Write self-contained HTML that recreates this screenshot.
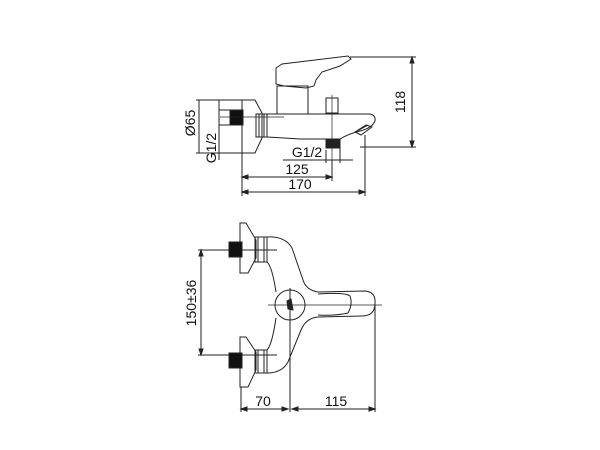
<!DOCTYPE html>
<html><head><meta charset="utf-8"><style>
html,body{margin:0;padding:0;background:#fff;width:600px;height:450px;overflow:hidden}
text{font-family:"Liberation Sans",sans-serif;font-size:14px;fill:#111}
</style></head><body>
<svg width="600" height="450" viewBox="0 0 600 450" xmlns="http://www.w3.org/2000/svg">
<g fill="none" stroke="#222" stroke-width="1">
<line x1="350" y1="57" x2="416" y2="57"/>
<line x1="360" y1="147" x2="416" y2="147"/>
<line x1="412" y1="57" x2="412" y2="147"/>
<path d="M412 57 l-2 6 h4z M412 147 l-2 -6 h4z" fill="#222"/>
<path d="M276 68 L282 64 L348 56 L351 59 L340 66 L322 72 L316 80 L314 86 L306 88 L284 86 L276 84 Z"/>
<rect x="277" y="86" width="31" height="28"/>
<path d="M242 100 H255 L262 113 V138 L255 153 H242 Z"/>
<rect x="230" y="110" width="13" height="15" fill="#111"/>
<line x1="220" y1="117" x2="284" y2="117" stroke-width="0.7"/>
<rect x="256" y="114" width="11" height="23"/>
<line x1="259" y1="114" x2="259" y2="137"/>
<line x1="264" y1="114" x2="264" y2="137"/>
<path d="M267 114 H370 Q376 115 375 121 Q372 128 360 131 Q348 134 340 139 H300 Q285 138 267 137"/>
<rect x="326" y="98" width="12" height="15"/>
<line x1="332" y1="95" x2="332" y2="160" stroke-width="0.7"/>
<path d="M355 132 L366 125 L372 127 L361 135 Z"/>
<line x1="357" y1="131" x2="368" y2="125"/>
<rect x="326" y="139" width="13" height="9" fill="#222"/>
<line x1="340" y1="139" x2="340" y2="163"/>
<line x1="196" y1="100" x2="242" y2="100"/>
<line x1="196" y1="153" x2="242" y2="153"/>
<line x1="199" y1="100" x2="199" y2="153"/>
<line x1="219" y1="100" x2="219" y2="160"/>
<line x1="219" y1="110" x2="232" y2="110"/>
<line x1="219" y1="125" x2="232" y2="125"/>
<line x1="283" y1="160" x2="353" y2="160"/>
<line x1="326" y1="150" x2="326" y2="163"/>
<line x1="242" y1="153" x2="242" y2="196"/>
<line x1="332" y1="160" x2="332" y2="181"/>
<line x1="365" y1="135" x2="365" y2="196"/>
<line x1="242" y1="177" x2="332" y2="177"/>
<line x1="242" y1="192" x2="365" y2="192"/>
<path d="M242 177 l6 -2 v4z M332 177 l-6 -2 v4z M242 192 l6 -2 v4z M365 192 l-6 -2 v4z" fill="#222"/>

<line x1="198" y1="250" x2="277" y2="250"/>
<line x1="198" y1="355" x2="277" y2="355"/>
<line x1="201" y1="250" x2="201" y2="355"/>
<path d="M201 250 l-2 6 h4z M201 355 l-2 -6 h4z" fill="#222"/>
<path d="M240 223 H246 L256 240 V258 L248 273 H240 Z"/>
<path d="M240 337 H246 L256 352 V370 L248 387 H240 Z"/>
<rect x="229" y="242" width="13" height="15" fill="#111"/>
<rect x="229" y="353" width="13" height="15" fill="#111"/>
<rect x="255" y="237" width="12" height="25"/>
<line x1="258" y1="237" x2="258" y2="262"/><line x1="264" y1="237" x2="264" y2="262"/>
<rect x="255" y="350" width="12" height="23"/>
<line x1="258" y1="350" x2="258" y2="373"/><line x1="264" y1="350" x2="264" y2="373"/>
<path d="M267 237 Q285 236 292 248 L303 280 Q306 290 318 292 L365 291 Q376 292 375 303 Q375 316 362 316 L318 317 Q306 318 301 330 L288 362 Q282 373 267 373"/>
<path d="M267 262 Q272 266 276 292 M276 318 Q272 345 267 350"/>
<circle cx="290" cy="305" r="15"/>
<path d="M318 294 Q345 292 350 296 Q353 304 348 313 Q335 316 318 315"/>
<path d="M287 301 L291 299 L293 310 L288 309Z" fill="#222"/>
<line x1="268" y1="305" x2="382" y2="305" stroke-width="0.7"/>
<line x1="290" y1="288" x2="290" y2="412"/>
<line x1="241" y1="387" x2="241" y2="412"/>
<line x1="375" y1="305" x2="375" y2="412"/>
<line x1="241" y1="409" x2="288" y2="409"/>
<line x1="292" y1="409" x2="375" y2="409"/>
<path d="M241 409 l6 -2 v4z M288 409 l-6 -2 v4z M292 409 l6 -2 v4z M375 409 l-6 -2 v4z" fill="#222"/>
</g>
<text x="405" y="102" text-anchor="middle" transform="rotate(-90 405 102)">118</text>
<text x="195" y="123" text-anchor="middle" transform="rotate(-90 195 123)">Ø65</text>
<text x="216" y="148" text-anchor="middle" transform="rotate(-90 216 148)">G1/2</text>
<text x="307" y="157" text-anchor="middle">G1/2</text>
<text x="297" y="174" text-anchor="middle">125</text>
<text x="300" y="189" text-anchor="middle">170</text>
<text x="196" y="303" text-anchor="middle" transform="rotate(-90 196 303)">150±36</text>
<text x="263" y="406" text-anchor="middle">70</text>
<text x="336" y="406" text-anchor="middle">115</text>
</svg>
</body></html>
